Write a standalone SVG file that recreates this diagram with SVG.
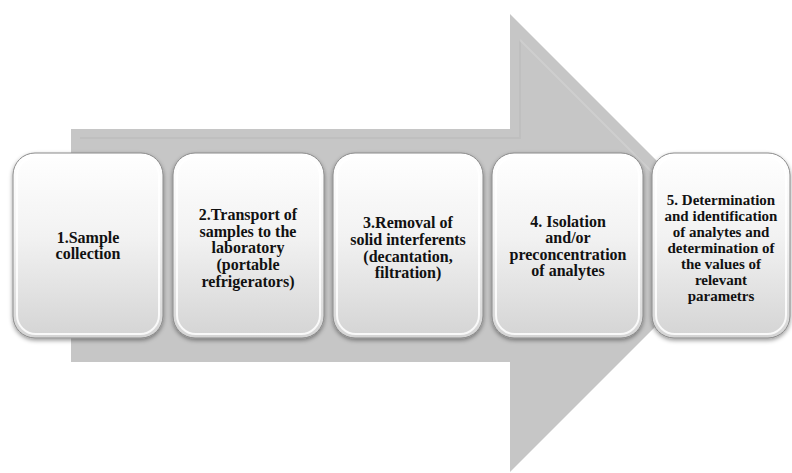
<svg xmlns="http://www.w3.org/2000/svg" width="792" height="473" viewBox="0 0 792 473">
<style>
.t{font-family:'Liberation Serif','Times New Roman',serif;font-weight:700;font-size:16px;fill:#111;text-anchor:middle}
.s{font-size:15px}
.box{fill:url(#bg);stroke:#8a8a8a;stroke-width:1;filter:url(#sh)}
.in{fill:none;stroke:#ffffff;stroke-width:2;opacity:0.85}
</style>
<defs>
<linearGradient id="bg" x1="0" y1="0" x2="0" y2="1">
<stop offset="0" stop-color="#ffffff"/>
<stop offset="0.45" stop-color="#f2f2f2"/>
<stop offset="1" stop-color="#d4d4d4"/>
</linearGradient>
<filter id="sh" x="-10%" y="-10%" width="120%" height="120%">
<feDropShadow dx="0" dy="2" stdDeviation="2" flood-color="#000" flood-opacity="0.4"/>
</filter>
</defs>
<g id="arrow">
<polygon points="71,129 510,129 510,14 739,243 510,472 510,362 71,362" fill="#c6c6c6"/>
<polyline points="520,40 520,138 80,138" fill="none" stroke="#bcbcbc" stroke-width="2" opacity="0.7"/>
<line x1="520" y1="40" x2="725" y2="245" stroke="#d2d2d2" stroke-width="2" opacity="0.7"/>
</g>
<g id="connectors"></g>
<g id="n1">
<rect class="box" x="13" y="153" width="150" height="185" rx="22"/>
<rect class="in" x="17" y="157" width="142" height="177" rx="19"/>
<text class="t" x="88" y="243">1.Sample</text>
<text class="t" x="88" y="259">collection</text>
</g>
<g id="n2">
<rect class="box" x="173" y="153" width="151" height="185" rx="22"/>
<rect class="in" x="177" y="157" width="143" height="177" rx="19"/>
<text class="t" x="248" y="220">2.Transport of</text>
<text class="t" x="248" y="237">samples to the</text>
<text class="t" x="248" y="253">laboratory</text>
<text class="t" x="248" y="270">(portable</text>
<text class="t" x="248" y="287">refrigerators)</text>
</g>
<g id="n3">
<rect class="box" x="333" y="153" width="150" height="185" rx="22"/>
<rect class="in" x="337" y="157" width="142" height="177" rx="19"/>
<text class="t" x="408" y="228">3.Removal of</text>
<text class="t" x="408" y="245">solid interferents</text>
<text class="t" x="408" y="262">(decantation,</text>
<text class="t" x="408" y="278">filtration)</text>
</g>
<g id="n4">
<rect class="box" x="492" y="153" width="151" height="185" rx="22"/>
<rect class="in" x="496" y="157" width="143" height="177" rx="19"/>
<text class="t" x="568" y="227">4. Isolation</text>
<text class="t" x="568" y="243">and/or</text>
<text class="t" x="568" y="260">preconcentration</text>
<text class="t" x="568" y="276">of analytes</text>
</g>
<g id="n5">
<rect class="box" x="652" y="153" width="138" height="185" rx="22"/>
<rect class="in" x="656" y="157" width="130" height="177" rx="19"/>
<text class="t s" x="721" y="205">5. Determination</text>
<text class="t s" x="721" y="221">and identification</text>
<text class="t s" x="721" y="237">of analytes and</text>
<text class="t s" x="721" y="253">determination of</text>
<text class="t s" x="721" y="269">the values of</text>
<text class="t s" x="721" y="285">relevant</text>
<text class="t s" x="721" y="301">parametrs</text>
</g>
</svg>
